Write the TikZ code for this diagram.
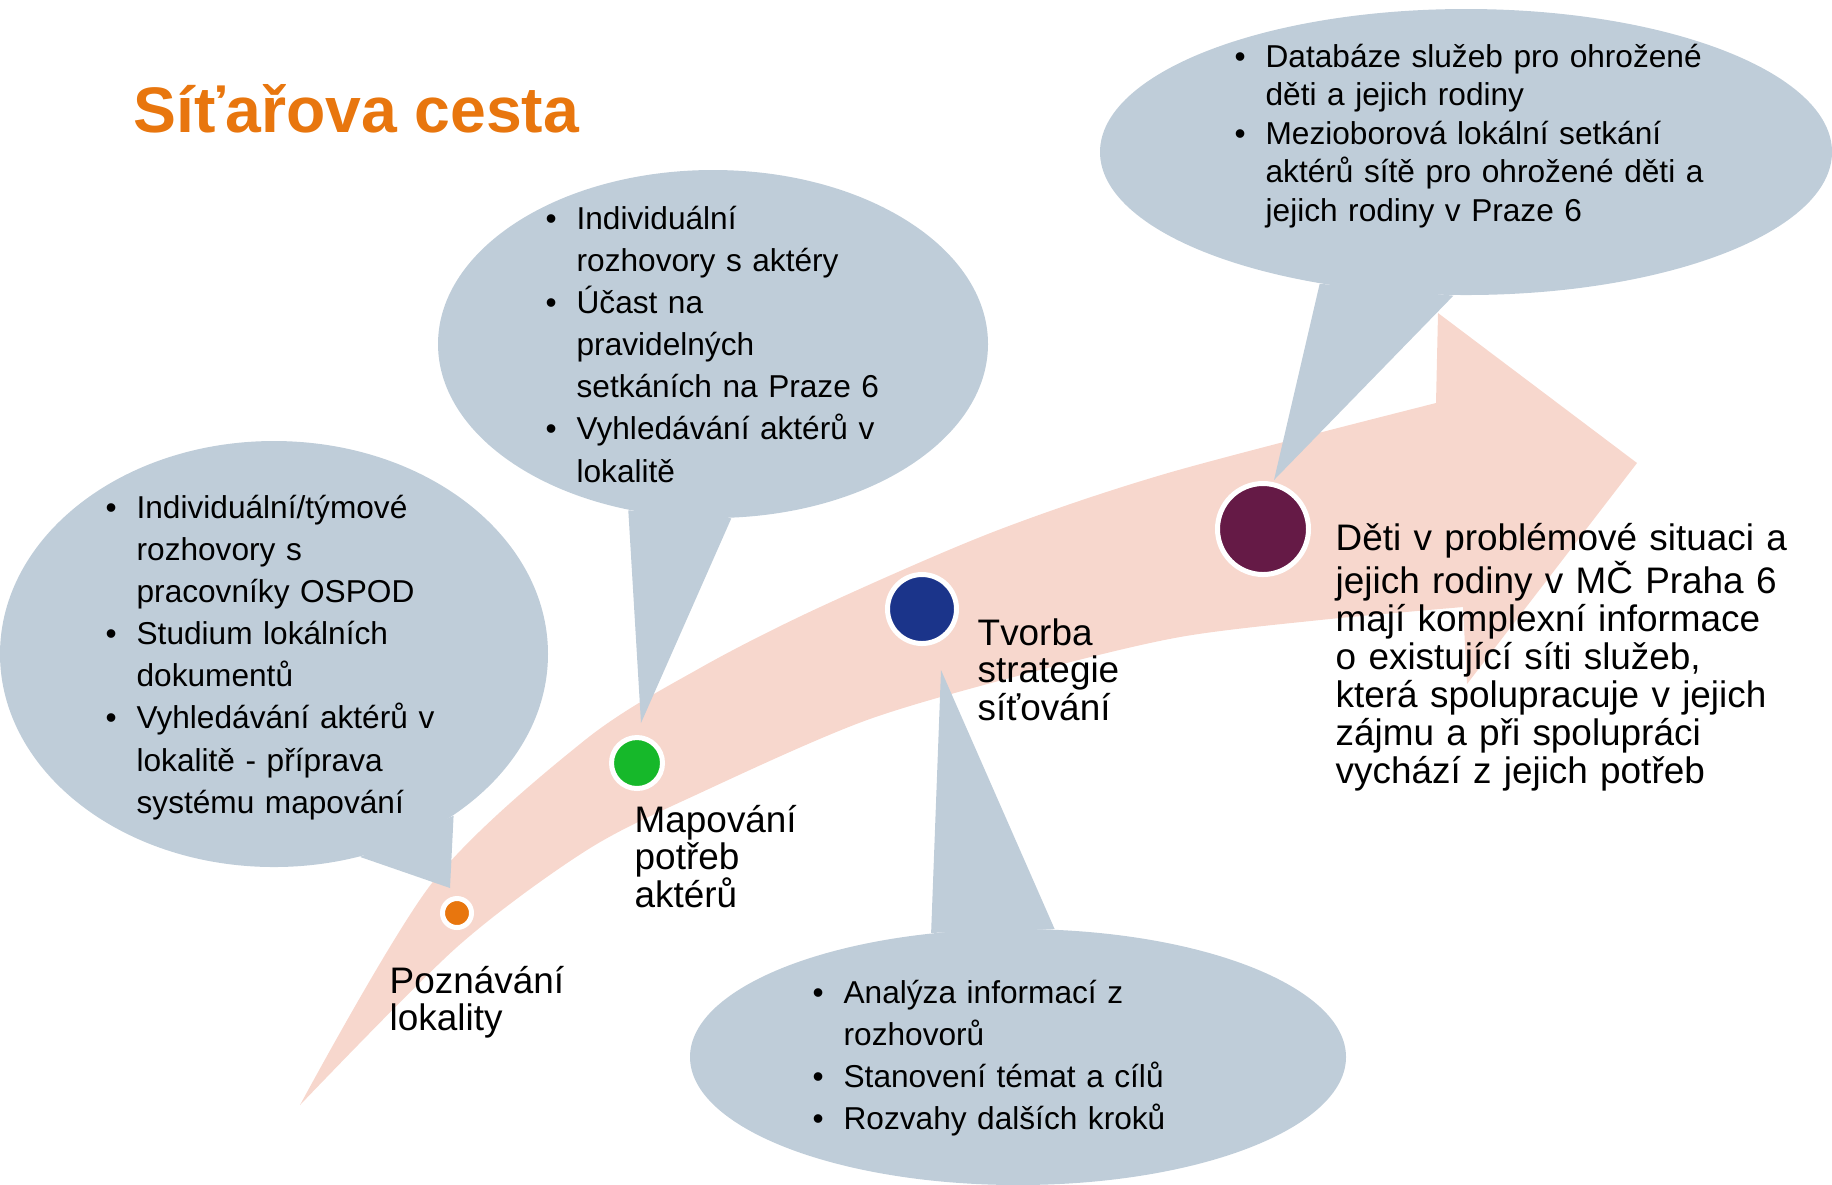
\documentclass[tikz,border=0pt]{standalone}
\usepackage{fontspec}
\setmainfont{Liberation Sans}
\usepackage{tikz}
\usetikzlibrary{shapes,calc}
\definecolor{bandpink}{RGB}{247,215,205}
\definecolor{bubgray}{RGB}{191,205,217}
\definecolor{orangeC}{RGB}{232,118,14}
\definecolor{greenC}{RGB}{22,184,42}
\definecolor{blueC}{RGB}{27,52,138}
\definecolor{purpleC}{RGB}{101,26,70}
\tikzset{
    x=0.1mm, y=-0.1mm,
    bubble/.style = {ellipse, fill=bubgray, inner sep=0pt},
    dot/.style = {circle, draw=white, line width=0.5mm, inner sep=0pt},
    lbl/.style = {anchor=base west, inner sep=0pt, text width=80mm, align=left, font=\fontsize{10.5}{10.8}\selectfont},
    lst/.style = {anchor=base west, inner sep=0pt, text width=80mm, align=left, font=\fontsize{9}{12}\selectfont}
}
\newcommand{\bulitem}{\makebox[8.8pt][l]{\textbullet}}
\newcommand{\bulcont}{\hspace*{8.8pt}}

\begin{document}
\begin{tikzpicture}
    \useasboundingbox (0,0) rectangle (1832,1184);
    \fill[bandpink] plot[smooth] coordinates {(300,1105) (432,883) (585,740) (700,668) (818,608) (993,532) (1168,473) (1436,403)}
        -- (1438,313) -- (1637,463) -- (1467,684)
        -- plot[smooth] coordinates {(1463,607) (1320,620) (1180,637) (1040,670) (867,720) (700,793) (587,850) (457,947) (300,1105)} -- cycle;

    \node[bubble, minimum width=54.8mm, minimum height=42.6mm] (b1) at (274,654) {};
    \node[bubble, minimum width=55.0mm, minimum height=34.8mm] (b2) at (713,344) {};
    \node[bubble, minimum width=65.6mm, minimum height=25.6mm] (b3) at (1018,1057) {};
    \node[bubble, minimum width=73.2mm, minimum height=28.6mm] (b4) at (1466,152) {};
    \coordinate (t1) at (450,888);
    \coordinate (t2) at (641,723);
    \coordinate (t3) at (941,670);
    \coordinate (t4) at (1274,480);
    \fill[bubgray] (b1.293) -- (t1) -- (b1.318) -- cycle;
    \fill[bubgray] (b2.243) -- (t2) -- (b2.276) -- cycle;
    \fill[bubgray] (b3.125) -- (t3) -- (b3.74) -- cycle;
    \fill[bubgray] (b4.222) -- (t4) -- (b4.265) -- cycle;

    \node[dot, fill=orangeC, minimum size=2.9mm] (1) at (457,913) {};
    \node[dot, fill=greenC, minimum size=5.1mm] (2) at (637,763) {};
    \node[dot, fill=blueC, minimum size=6.9mm] (3) at (922,609) {};
    \node[dot, fill=purpleC, minimum size=9.1mm] (4) at (1263,529) {};

    \node[anchor=base west, inner sep=0pt, text=orangeC, font=\bfseries\fontsize{18.3}{20}\selectfont] (0) at (133,132) {Síťařova cesta};

    \node[lbl] (l1) at (389,993) {Poznávání\\lokality};
    \node[lbl] (l2) at (634,832) {Mapování\\potřeb\\aktérů};
    \node[lbl] (l3) at (977,645) {Tvorba\\strategie\\síťování};
    \node[lbl] (l4) at (1335,550) {Děti v problémové situaci a\\jejich rodiny v MČ Praha 6\\mají komplexní informace\\o existující síti služeb,\\která spolupracuje v jejich\\zájmu a při spolupráci\\vychází z jejich potřeb};

    \node[lst] (s1) at (105,518) {\bulitem Individuální/týmové\\\bulcont rozhovory s\\\bulcont pracovníky OSPOD\\\bulitem Studium lokálních\\\bulcont dokumentů\\\bulitem Vyhledávání aktérů v\\\bulcont lokalitě - příprava\\\bulcont systému mapování};
    \node[lst] (s2) at (545,229) {\bulitem Individuální\\\bulcont rozhovory s aktéry\\\bulitem Účast na\\\bulcont pravidelných\\\bulcont setkáních na Praze 6\\\bulitem Vyhledávání aktérů v\\\bulcont lokalitě};
    \node[lst] (s3) at (812,1003) {\bulitem Analýza informací z\\\bulcont rozhovorů\\\bulitem Stanovení témat a cílů\\\bulitem Rozvahy dalších kroků};
    \node[lst, font=\fontsize{9}{11}\selectfont] (s4) at (1234,67) {\bulitem Databáze služeb pro ohrožené\\\bulcont děti a jejich rodiny\\\bulitem Mezioborová lokální setkání\\\bulcont aktérů sítě pro ohrožené děti a\\\bulcont jejich rodiny v Praze 6};
\end{tikzpicture}
\end{document}
